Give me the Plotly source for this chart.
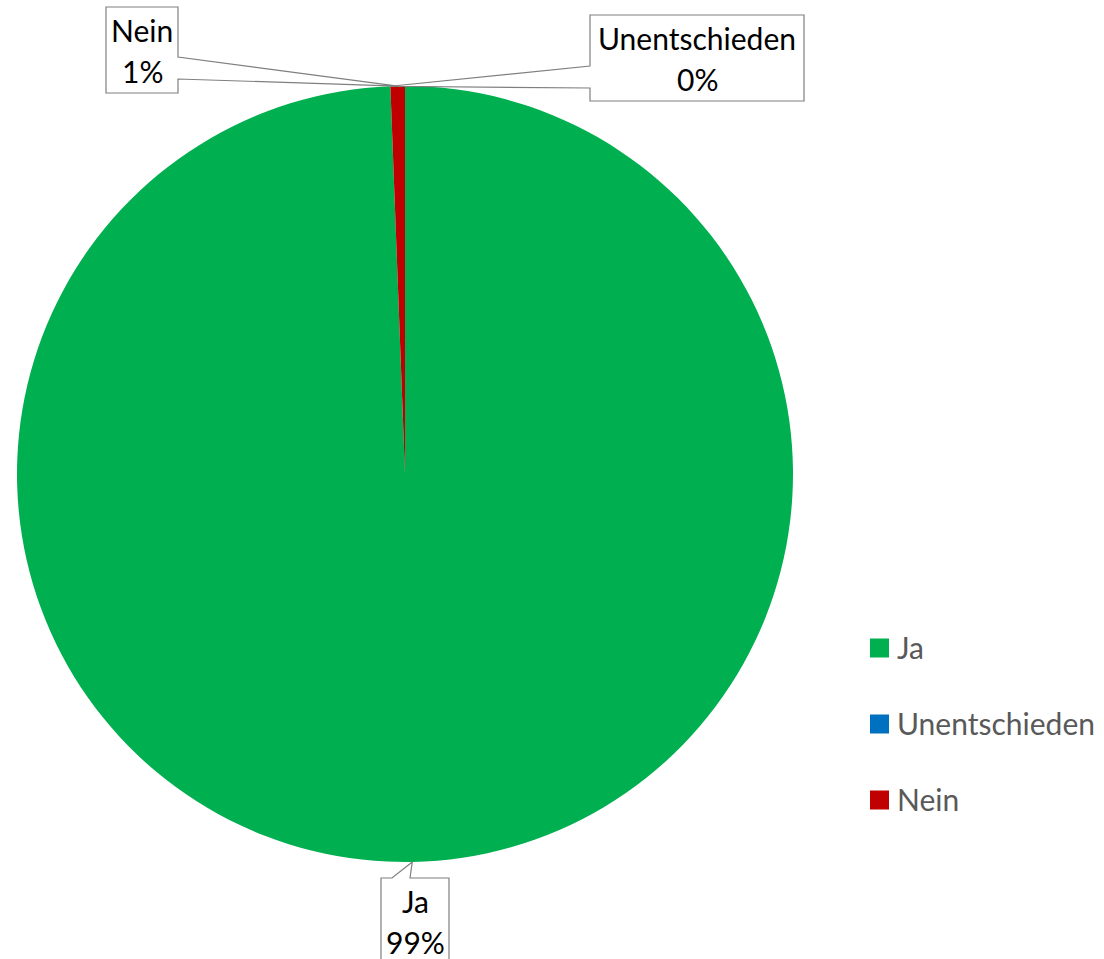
import math
import plotly.graph_objects as go

# Survey answers (share in percent)
categories = ["Ja", "Unentschieden", "Nein"]
shares = [99.4, 0.0, 0.6]
colors = ["#00B050", "#0070C0", "#C00000"]

W, H = 1104, 959
FONT = "Lato"
FS = 30

# Pie geometry in pixels
CX, CY, R = 405, 474, 388


def px(x):
    return x / W


def py(y):
    return 1 - y / H


fig = go.Figure(
    go.Pie(
        labels=categories,
        values=shares,
        marker=dict(colors=colors, line=dict(width=0)),
        sort=False,
        direction="clockwise",
        rotation=0,
        textinfo="none",
        hoverinfo="label+percent",
        showlegend=False,
        domain=dict(x=[px(CX - R), px(CX + R)], y=[py(CY + R), py(CY - R)]),
    )
)

# Callout boxes: (left, top, right, bottom), side the pointer leaves from, pointer base
callouts = {
    "Nein": dict(box=(106, 7, 178, 93), side="right", base=(57, 79)),
    "Unentschieden": dict(box=(590, 15, 804, 101), side="left", base=(66, 88)),
    "Ja": dict(box=(381, 878, 449, 964), side="top", base=(392, 410)),
}

total = sum(shares)
cum = 0.0
shapes = []
annotations = []
for cat, val in zip(categories, shares):
    mid = (cum + val / 2) / total
    cum += val
    ang = 2 * math.pi * mid
    ax = CX + R * math.sin(ang)
    ay = CY - R * math.cos(ang)
    c = callouts[cat]
    l, t, r, b = c["box"]
    a1, a2 = c["base"]
    if c["side"] == "right":
        pts = [(l, t), (r, t), (r, a1), (ax, ay), (r, a2), (r, b), (l, b)]
    elif c["side"] == "left":
        pts = [(l, t), (r, t), (r, b), (l, b), (l, a2), (ax, ay), (l, a1)]
    else:
        pts = [(l, t), (a1, t), (ax, ay), (a2, t), (r, t), (r, b), (l, b)]
    path = "M " + " L ".join(f"{px(x):.5f},{py(y):.5f}" for x, y in pts) + " Z"
    shapes.append(
        dict(type="path", xref="paper", yref="paper", path=path,
             fillcolor="white", line=dict(color="#7F7F7F", width=1.2))
    )
    pct = round(val / total * 100)
    for line_text, dy in ((cat, 23), (f"{pct}%", 64)):
        annotations.append(
            dict(x=px((l + r) / 2), y=py(t + dy), xref="paper", yref="paper",
                 text=line_text, showarrow=False, align="center",
                 xanchor="center", yanchor="middle",
                 font=dict(family=FONT, size=FS, color="#000000"))
        )

# Legend drawn as squares with labels
leg_x, leg_y0, leg_step, sq = 870, 648, 76, 19
for i, (cat, col) in enumerate(zip(categories, colors)):
    yc = leg_y0 + i * leg_step
    shapes.append(
        dict(type="rect", xref="paper", yref="paper",
             x0=px(leg_x), x1=px(leg_x + sq), y0=py(yc + sq / 2), y1=py(yc - sq / 2),
             fillcolor=col, line=dict(width=0))
    )
    annotations.append(
        dict(x=px(leg_x + 25), y=py(yc - 1), xref="paper", yref="paper",
             text=cat, showarrow=False, xanchor="left", yanchor="middle",
             font=dict(family=FONT, size=FS, color="#595959"))
    )

fig.update_layout(
    width=W, height=H,
    margin=dict(l=0, r=0, t=0, b=0),
    paper_bgcolor="white",
    plot_bgcolor="white",
    shapes=shapes,
    annotations=annotations,
    font=dict(family=FONT),
)

fig.write_html("out.html", config={"displayModeBar": False})
